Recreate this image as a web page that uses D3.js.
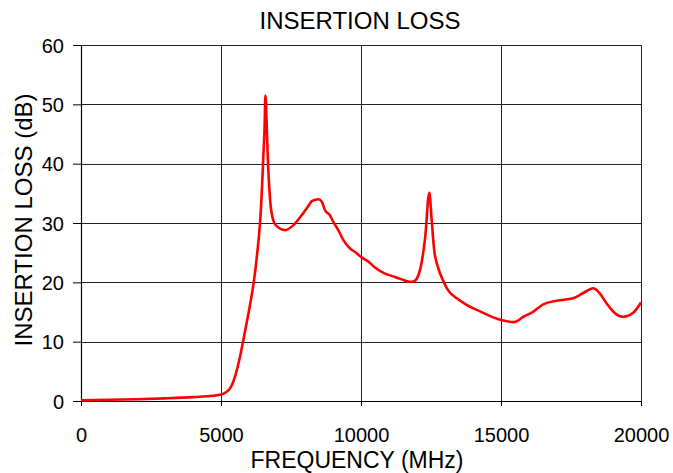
<!DOCTYPE html>
<html>
<head>
<meta charset="utf-8">
<script src="https://cdn.jsdelivr.net/npm/d3@7"></script>
<style>
  body { margin: 0; background: #fff; }
  svg text { font-family: "Liberation Sans", Arial, Helvetica, sans-serif; fill: #000; }
</style>
</head>
<body>
<svg id="chart" width="673" height="473"></svg>
<script>
// Values
const freqMHz = [0, 1000, 2000, 3000, 4000, 4500, 5000, 5320, 5500, 5680, 5860, 6040, 6190, 6300, 6390, 6460, 6510, 6560, 6585,
  6630, 6670, 6730, 6810, 6960, 7290, 7580, 7880, 8180, 8240, 8480, 8600, 8710, 8890, 9010, 9190, 9370, 9610, 9790,
  10020, 10260, 10500, 10800, 11150, 11450, 11750, 11900, 11990, 12110, 12290, 12440, 12520, 12610, 12760, 12940,
  13120, 13420, 13770, 14250, 14970, 15480, 15800, 16100, 16510, 16990, 17580, 17940, 18300, 18480, 18780, 19070,
  19370, 19730, 20000];
const lossDb = [0.1, 0.2, 0.3, 0.45, 0.65, 0.8, 1.1, 2.1, 4.1, 7.5, 11.8, 16.3, 20.7, 25.2, 29.8, 35.5, 41.1, 46.7, 51.5,
  46.8, 41.1, 35.5, 31.6, 29.6, 28.8, 29.6, 31.3, 33.3, 33.7, 34.0, 33.6, 32.2, 31.3, 30.2, 28.8, 27.1, 25.7, 25.1,
  24.2, 23.5, 22.5, 21.6, 21.0, 20.5, 20.1, 20.2, 20.6, 22.1, 27.5, 35.1, 30.8, 25.6, 22.4, 20.2,
  18.6, 17.3, 16.2, 15.1, 13.7, 13.3, 14.2, 14.9, 16.3, 16.9, 17.3, 18.2, 19.0, 18.4, 16.4, 14.8,
  14.2, 14.9, 16.6];
const xTicks = [0, 5000, 10000, 15000, 20000];
const yTicks = [0, 10, 20, 30, 40, 50, 60];

const svg = d3.select('#chart');
const margin = {top: 45, right: 32, bottom: 72, left: 81};
const width = +svg.attr('width'), height = +svg.attr('height');
const innerWidth = width - margin.left - margin.right;
const innerHeight = height - margin.top - margin.bottom;

const chart = svg.append('g').attr('transform', `translate(${margin.left},${margin.top})`);

const xScale = d3.scaleLinear().domain([0, 20000]).range([0, innerWidth]);
const yScale = d3.scaleLinear().domain([0, 60]).range([innerHeight, 0]);

// Grid lines
chart.append('g').selectAll('line').data(xTicks.slice(1)).join('line')
  .attr('x1', d => Math.round(xScale(d)) + 0.5).attr('x2', d => Math.round(xScale(d)) + 0.5)
  .attr('y1', 0).attr('y2', innerHeight)
  .attr('stroke', '#222').attr('stroke-width', 1);
chart.append('g').selectAll('line').data(yTicks.slice(1)).join('line')
  .attr('x1', 0).attr('x2', innerWidth)
  .attr('y1', d => Math.round(yScale(d)) + 0.5).attr('y2', d => Math.round(yScale(d)) + 0.5)
  .attr('stroke', '#222').attr('stroke-width', 1);

// Axes
const xAxis = d3.axisBottom(xScale).tickValues(xTicks).tickFormat(d3.format('d'))
  .tickSize(5).tickSizeOuter(0).tickPadding(22);
const yAxis = d3.axisLeft(yScale).tickValues(yTicks).tickFormat(d3.format('d'))
  .tickSize(8).tickSizeOuter(0).tickPadding(9);

const xAxisG = chart.append('g').attr('transform', `translate(0,${innerHeight})`).call(xAxis);
const yAxisG = chart.append('g').call(yAxis);
[xAxisG, yAxisG].forEach(g => {
  g.select('.domain').attr('stroke', '#000').attr('stroke-width', 1.2);
  g.selectAll('.tick line').attr('stroke', '#000');
  g.selectAll('.tick text').attr('font-size', 20).attr('font-family', '"Liberation Sans", Arial, sans-serif');
});
yAxisG.selectAll('.tick text').attr('dy', '0.35em');

// Curve
const line = d3.line()
  .x((d, i) => xScale(freqMHz[i]))
  .y(d => yScale(d))
  .curve(d3.curveMonotoneX);

chart.append('path').datum(lossDb)
  .attr('fill', 'none')
  .attr('stroke', '#ff0000')
  .attr('stroke-width', 2.6)
  .attr('stroke-linejoin', 'round')
  .attr('d', line);

// Labels
svg.append('text').attr('x', 360).attr('y', 29).attr('text-anchor', 'middle')
  .attr('font-size', 24).text('INSERTION LOSS');
svg.append('text').attr('x', 357).attr('y', 468).attr('text-anchor', 'middle')
  .attr('font-size', 23).text('FREQUENCY (MHz)');
svg.append('text').attr('transform', 'translate(32,220) rotate(-90)').attr('text-anchor', 'middle')
  .attr('font-size', 24).text('INSERTION LOSS (dB)');
</script>
</body>
</html>
